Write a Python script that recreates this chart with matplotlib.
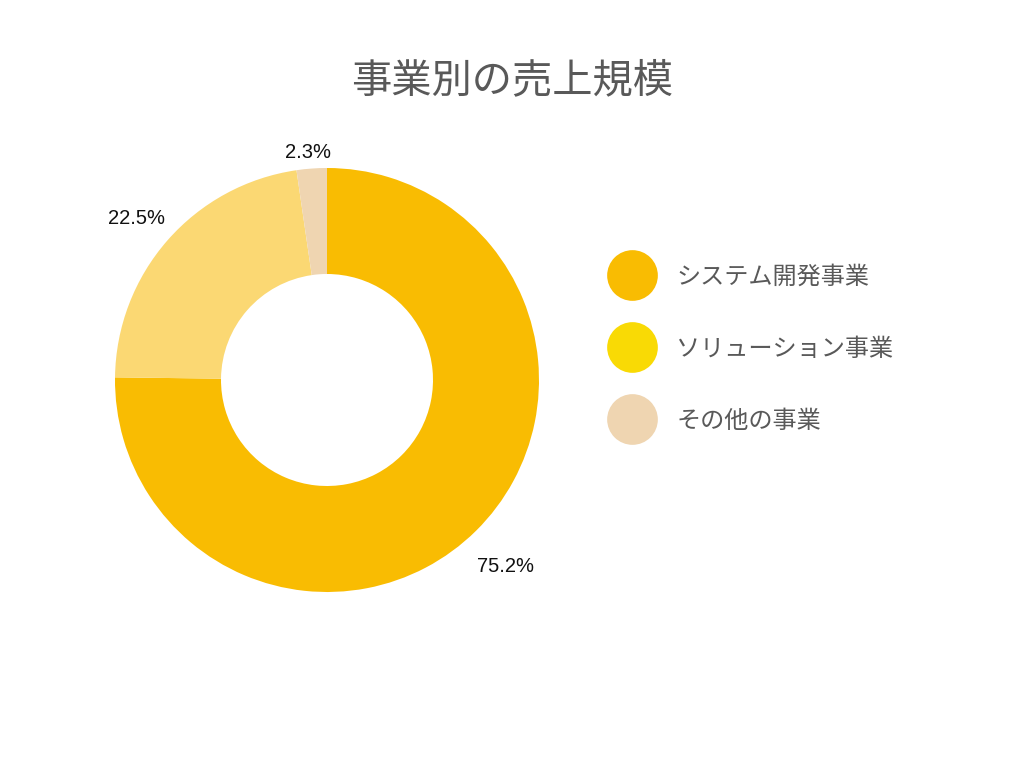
import matplotlib
matplotlib.use('Agg')
import numpy as np
import matplotlib.pyplot as plt
from matplotlib.lines import Line2D

# data
categories = ['システム開発事業', 'ソリューション事業', 'その他の事業']
shares = [75.2, 22.5, 2.3]
slice_colors = ['#F9BC02', '#FBD873', '#EFD5B1']
legend_colors = ['#F9BC02', '#F9DA05', '#EFD5B1']

# radial distance of each percent label (in radii)
label_dist = [1.21, 1.18, 1.095]

plt.rcParams['font.family'] = ['Noto Sans CJK JP', 'DejaVu Sans']

fig = plt.figure(figsize=(10.24, 7.68), dpi=100)

# pie axes: square box in pixels, centre ~ (327, 380), radius 212
W, H = 1024, 768
cx, cy, r = 327, 380, 212
ax = fig.add_axes([(cx - r) / W, (H - cy - r) / H, 2 * r / W, 2 * r / H])

wedges, texts, autotexts = ax.pie(
	shares, colors=slice_colors, startangle=90, counterclock=False,
	radius=1.0, wedgeprops={'width': 0.5, 'linewidth': 0},
	autopct='%.1f%%', pctdistance=1.19,
)
for w, t, d in zip(wedges, autotexts, label_dist):
	ang = np.deg2rad((w.theta1 + w.theta2) / 2)
	t.set_position((d * np.cos(ang) - 0.01, d * np.sin(ang) - 0.018))
	t.set_family(['Liberation Sans', 'DejaVu Sans'])
	t.set_fontsize(14.5)
	t.set_color('#111111')
ax.set_xlim(-1, 1)
ax.set_ylim(-1, 1)
ax.axis('off')

fig.suptitle('事業別の売上規模', x=0.5, y=1 - 81 / H, va='center',
	fontsize=29, color='#595959')

handles = [Line2D([], [], marker='o', linestyle='', markersize=36.5,
	markerfacecolor=c, markeredgewidth=0) for c in legend_colors]
leg = fig.legend(handles, categories, loc='upper left',
	bbox_to_anchor=(593 / W, 1 - 242 / H), frameon=False,
	fontsize=17.4, labelspacing=1.9, handletextpad=1.15, handlelength=1.4)
for t in leg.get_texts():
	t.set_color('#595959')

plt.savefig('out.png', dpi=100)
